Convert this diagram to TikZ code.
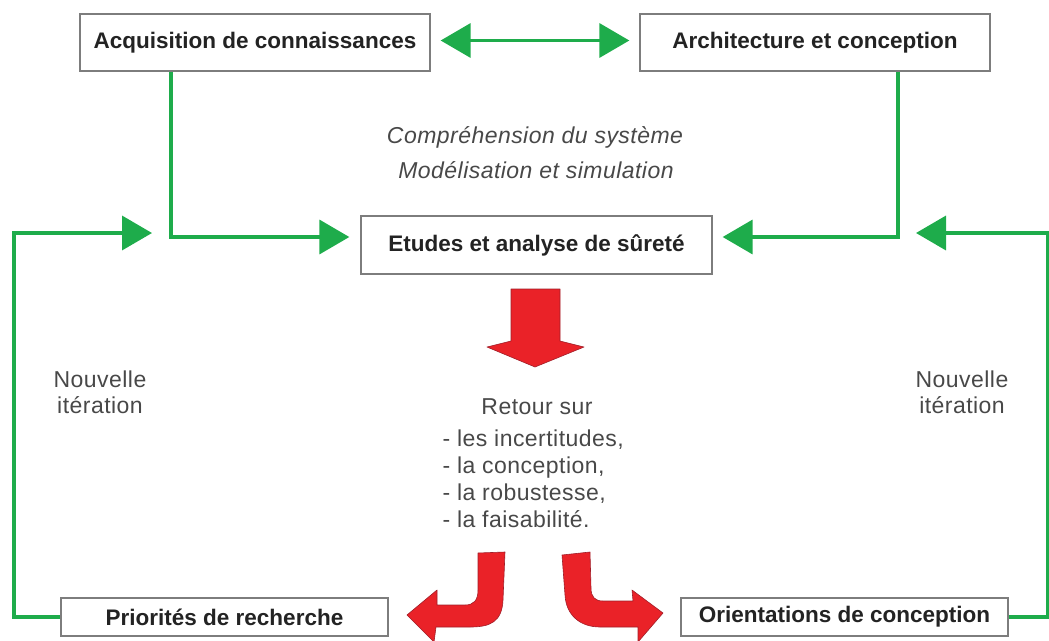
\documentclass[tikz,border=0pt]{standalone}
\usepackage{fontspec}
\setmainfont{Liberation Sans}
\usetikzlibrary{arrows.meta}
\definecolor{grn}{RGB}{30,172,75}
\definecolor{rd}{RGB}{234,34,40}
\definecolor{rdd}{RGB}{160,30,40}
\definecolor{txt}{RGB}{72,72,72}
\definecolor{btxt}{RGB}{35,35,35}
\definecolor{bord}{RGB}{125,125,125}
\begin{document}
\begin{tikzpicture}[x=1pt,y=-1pt,
  box/.style={draw=bord, line width=1.3pt, fill=white, inner sep=0pt,
    font=\fontsize{22.5}{26}\selectfont\bfseries, text=btxt},
  gline/.style={draw=grn, line width=3.6pt},
  ghead/.style={-{Triangle[length=30pt,width=34pt]}},
  lbl/.style={font=\fontsize{23}{26}\selectfont\addfontfeature{LetterSpace=2}, text=txt, align=center},
  ilbl/.style={font=\fontsize{23}{26}\selectfont\itshape\addfontfeature{LetterSpace=2}, text=txt},
  redarrow/.style={fill=rd, draw=rdd, line width=0.6pt, line join=round}]
\useasboundingbox (0,0) rectangle (1049,640);

% boxes
\node[box, minimum width=350pt, minimum height=57pt] (acq) at (255,42.5) {Acquisition de connaissances};
\node[box, minimum width=350pt, minimum height=57pt] (arch) at (815,42.5) {Architecture et conception};
\node[box, minimum width=351pt, minimum height=58pt] (etu) at (536.5,245) {Etudes et analyse de sûreté};
\node[box, minimum width=327pt, minimum height=38pt] (pri) at (224.5,617) {Priorités de recherche};
\node[box, minimum width=327pt, minimum height=38pt] (ori) at (844.5,617) {Orientations de conception};

% coordinates
\coordinate (c1) at (171,0);
\coordinate (c2) at (898,0);
\coordinate (lc) at (14,233);
\coordinate (lt) at (152,233);
\coordinate (rc) at (1048,233);
\coordinate (rt) at (916,233);

% green connectors
\draw[gline, {Triangle[length=30pt,width=34pt]}-{Triangle[length=30pt,width=34pt]}, shorten <=10pt, shorten >=10pt] ([yshift=2pt]acq.east) -- ([yshift=2pt]arch.west);
\draw[gline, ghead, shorten >=11pt] (acq.south -| c1) |- ([yshift=8pt]etu.west);
\draw[gline, ghead, shorten >=10pt] (arch.south -| c2) |- ([yshift=8pt]etu.east);
\draw[gline, ghead] (pri.west) -| (lc) -- (lt);
\draw[gline, ghead] (ori.east) -| (rc) -- (rt);

% texts
\node[ilbl] (comp) at (535,137) {Compréhension du système};
\node[ilbl] (mod) at (536,170) {Modélisation et simulation};
\node[lbl] (nl) at (100,392) {Nouvelle\\itération};
\node[lbl] (nr) at (962,392) {Nouvelle\\itération};
\node[lbl] (ret) at (537,407) {Retour sur};
\node[lbl, align=left, anchor=west, font=\fontsize{23}{27}\selectfont\addfontfeature{LetterSpace=2}] (list) at (439,479) {- les incertitudes,\\- la conception,\\- la robustesse,\\- la faisabilité.};

% red arrows
\path[redarrow] (511,289) -- (560,289) -- (560,341) -- (584,347) -- (535,367) -- (487,347) -- (511,341) -- cycle;
\path[redarrow] (478,553) -- (505,552) -- (503,600) .. controls (502,622) and (490,627) .. (470,627) -- (436,627) -- (434,642) -- (407,615) -- (437,590) -- (437,605) -- (465,605) .. controls (474,605) and (478,600) .. (478,590) -- cycle;
\path[redarrow] (562,555) -- (590,552) -- (591,588) .. controls (591,597) and (595,601) .. (603,601) -- (633,601) -- (632,590) -- (663,613) -- (638,642) -- (638,627) -- (600,627) .. controls (580,627) and (566,615) .. (565,595) -- cycle;
\end{tikzpicture}
\end{document}
